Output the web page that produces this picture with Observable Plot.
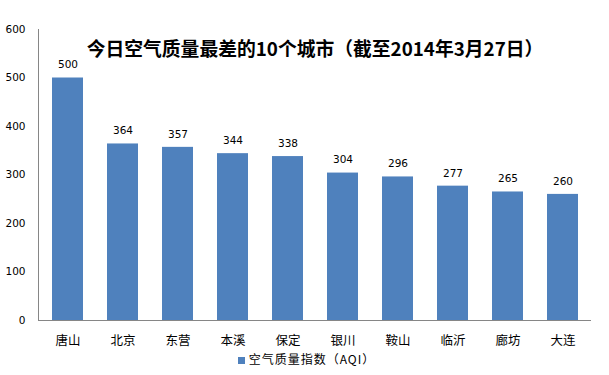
<!DOCTYPE html>
<html><head><meta charset="utf-8">
<script src="https://cdn.jsdelivr.net/npm/d3@7"></script>
<script src="https://cdn.jsdelivr.net/npm/@observablehq/plot@0.6"></script>
<style>
body{margin:0;background:#fff;}
#wrap{width:609px;position:relative;}
#legend{height:27px;line-height:20px;padding-top:2px;padding-left:4px;font:12px "Noto Sans CJK SC",sans-serif;text-align:center;color:#000;letter-spacing:1px;}
#legend span.sw{display:inline-block;width:7px;height:7px;background:#4F81BD;margin-right:4px;vertical-align:0px;}
</style></head>
<body><div id="wrap"></div>
<script>
const cities = ["唐山","北京","东营","本溪","保定","银川","鞍山","临沂","廊坊","大连"];
const aqi = [500,364,357,344,338,304,296,277,265,260];
const yTicks = [0,100,200,300,400,500,600];
const title = "今日空气质量最差的10个城市（截至2014年3月27日）";
const legendLabel = "空气质量指数（AQI）";

const data = cities.map((c,i)=>({city:c, value:aqi[i]}));
const color = "#4F81BD";

const chart = Plot.plot({
  width:609, height:348,
  marginLeft:38, marginRight:18, marginTop:29, marginBottom:28,
  style:{fontFamily:"DejaVu Sans, sans-serif", fontSize:"10.5px", color:"#000", background:"#fff"},
  x:{domain:cities, paddingInner:0.44, paddingOuter:0.22, label:null},
  y:{domain:[0,600], label:null},
  marks:[
    Plot.barY(data,{x:"city", y:"value", fill:color}),
    Plot.text(data,{x:"city", y:"value", text:d=>String(d.value), dy:-13, fontSize:10.5, fill:"#000"}),
    Plot.axisY({ticks:yTicks, tickSize:0, tickPadding:13, label:null, fontSize:10.5}),
    Plot.axisX({tickSize:0, tickPadding:16, label:null, fontSize:12.5, fontFamily:"Noto Sans CJK SC, sans-serif"}),
    Plot.frame({anchor:"left", stroke:"#868686"}),
    Plot.ruleY([0],{stroke:"#868686"}),
    Plot.text([title],{frameAnchor:"top", dy:13, dx:0, text:d=>d, fontSize:18.8, fontWeight:"bold", fontFamily:"Noto Sans CJK SC, sans-serif", fill:"#000"})
  ]
});
const wrap = document.getElementById("wrap");
wrap.appendChild(chart);
const lg = document.createElement("div");
lg.id="legend";
lg.innerHTML = '<span class="sw"></span>'+legendLabel;
wrap.appendChild(lg);
</script></body></html>
